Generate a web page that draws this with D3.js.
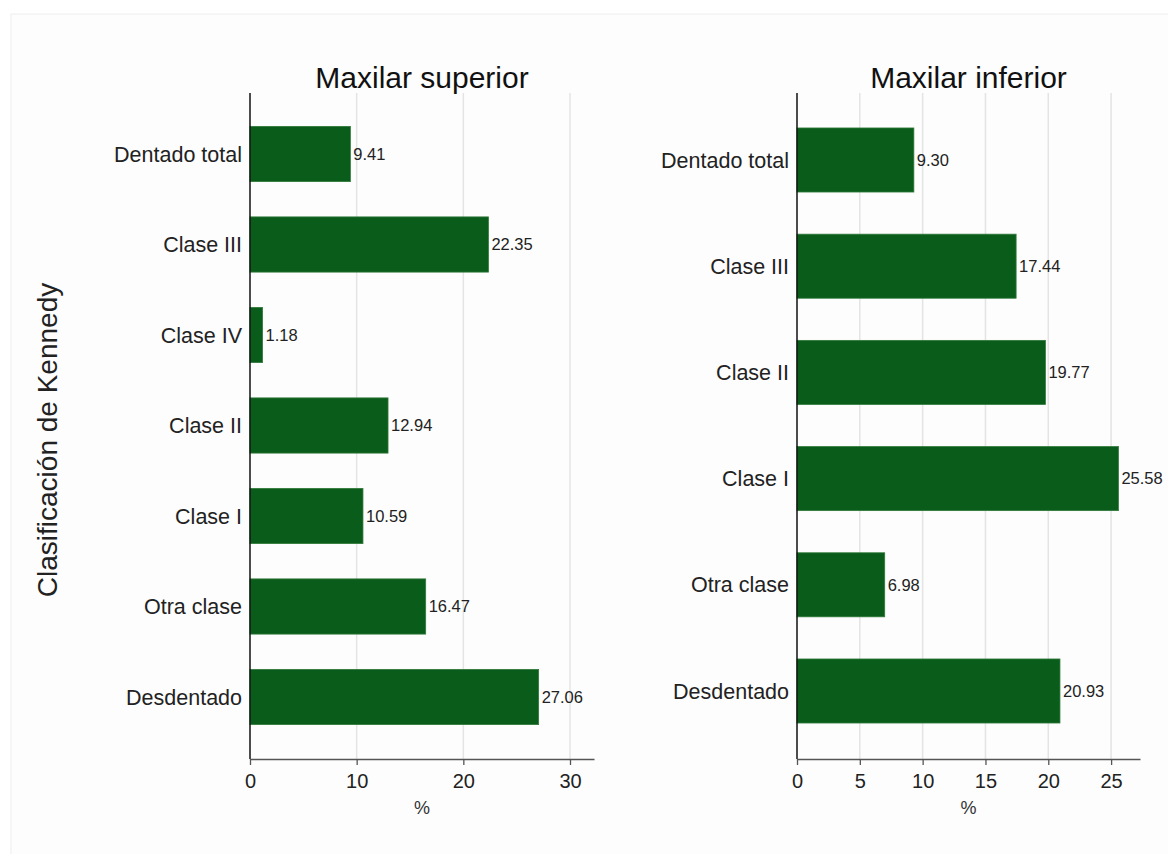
<!DOCTYPE html>
<html>
<head>
<meta charset="utf-8">
<script src="https://cdn.jsdelivr.net/npm/d3@7"></script>
<style>
  body { margin: 0; background: #fff; }
  svg { display: block; font-family: "Liberation Sans", Arial, Helvetica, sans-serif; }
</style>
</head>
<body>
<div id="chart"></div>
<script>
// data
const catsSup = ["Dentado total", "Clase III", "Clase IV", "Clase II", "Clase I", "Otra clase", "Desdentado"];
const valsSup = [9.41, 22.35, 1.18, 12.94, 10.59, 16.47, 27.06];
const ticksSup = [0, 10, 20, 30];

const catsInf = ["Dentado total", "Clase III", "Clase II", "Clase I", "Otra clase", "Desdentado"];
const valsInf = [9.30, 17.44, 19.77, 25.58, 6.98, 20.93];
const ticksInf = [0, 5, 10, 15, 20, 25];

const W = 1168, H = 854;
const green = "#0a5c1b";

const svg = d3.select("#chart").append("svg")
  .attr("width", W)
  .attr("height", H);

// faint outer frame
svg.append("rect")
  .attr("x", 11).attr("y", 14)
  .attr("width", W + 20).attr("height", H + 20)
  .attr("fill", "#fdfdfd")
  .attr("stroke", "#eeeeee");

// y axis title
svg.append("text")
  .attr("transform", "translate(57,440) rotate(-90)")
  .attr("text-anchor", "middle")
  .attr("font-size", 28)
  .attr("fill", "#222")
  .text("Clasificación de Kennedy");

function panel(cats, vals, ticks, opt) {
  const x = d3.scaleLinear().domain([0, opt.xmax]).range([opt.x0, opt.x1]);
  const y = d3.scaleBand().domain(cats)
    .range([opt.y0, opt.y1])
    .paddingInner(opt.pad)
    .paddingOuter(opt.pad / 2);

  const g = svg.append("g");

  // vertical grid lines
  g.selectAll(".grid")
    .data(ticks.filter(t => t > 0))
    .enter()
    .append("line")
    .attr("x1", d => x(d)).attr("x2", d => x(d))
    .attr("y1", opt.top).attr("y2", opt.bottom)
    .attr("stroke", "#e4e4e4")
    .attr("stroke-width", 1.5);

  // bars
  g.selectAll(".bar")
    .data(vals)
    .enter()
    .append("rect")
    .attr("x", x(0))
    .attr("y", (d, i) => y(cats[i]))
    .attr("width", d => x(d) - x(0))
    .attr("height", y.bandwidth())
    .attr("fill", green)
    .attr("stroke", "#2f7a3a")
    .attr("stroke-width", 0.8);

  // value labels
  g.selectAll(".val")
    .data(vals)
    .enter()
    .append("text")
    .attr("x", d => x(d) + 3)
    .attr("y", (d, i) => y(cats[i]) + y.bandwidth() / 2)
    .attr("dy", "0.35em")
    .attr("font-size", 16.5)
    .attr("fill", "#222")
    .text(d => d.toFixed(2));

  // category labels
  g.selectAll(".cat")
    .data(cats)
    .enter()
    .append("text")
    .attr("x", x(0) - 8)
    .attr("y", d => y(d) + y.bandwidth() / 2)
    .attr("dy", "0.35em")
    .attr("text-anchor", "end")
    .attr("font-size", 21.5)
    .attr("fill", "#222")
    .text(d => d);

  // y axis line
  g.append("line")
    .attr("x1", x(0)).attr("x2", x(0))
    .attr("y1", opt.top).attr("y2", opt.bottom)
    .attr("stroke", "#111")
    .attr("stroke-width", 1.5);

  // x axis
  const xAxis = d3.axisBottom(x).tickValues(ticks).tickSize(6).tickSizeOuter(0);
  const ax = g.append("g")
    .attr("transform", "translate(0," + opt.bottom + ")")
    .call(xAxis);
  ax.select(".domain").attr("stroke", "#555").attr("stroke-width", 1.5);
  ax.selectAll(".tick line").attr("stroke", "#555").attr("stroke-width", 1.3);
  ax.selectAll(".tick text")
    .attr("font-size", 20)
    .attr("font-family", "Liberation Sans, Arial, sans-serif")
    .attr("fill", "#222")
    .attr("y", 15);

  // x title
  g.append("text")
    .attr("x", (opt.x0 + opt.x1) / 2)
    .attr("y", opt.bottom + 55)
    .attr("text-anchor", "middle")
    .attr("font-size", 18)
    .attr("fill", "#333")
    .text("%");

  // panel title
  g.append("text")
    .attr("x", (opt.x0 + opt.x1) / 2)
    .attr("y", 88)
    .attr("text-anchor", "middle")
    .attr("font-size", 30)
    .attr("fill", "#111")
    .text(opt.title);
}

panel(catsSup, valsSup, ticksSup, {
  title: "Maxilar superior",
  x0: 250, x1: 594, xmax: 32.25,
  y0: 108.75, y1: 742.25, pad: 0.39,
  top: 93, bottom: 759
});

panel(catsInf, valsInf, ticksInf, {
  title: "Maxilar inferior",
  x0: 797, x1: 1140, xmax: 27.3,
  y0: 106.9, y1: 744.1, pad: 0.397,
  top: 93, bottom: 759
});
</script>
</body>
</html>
